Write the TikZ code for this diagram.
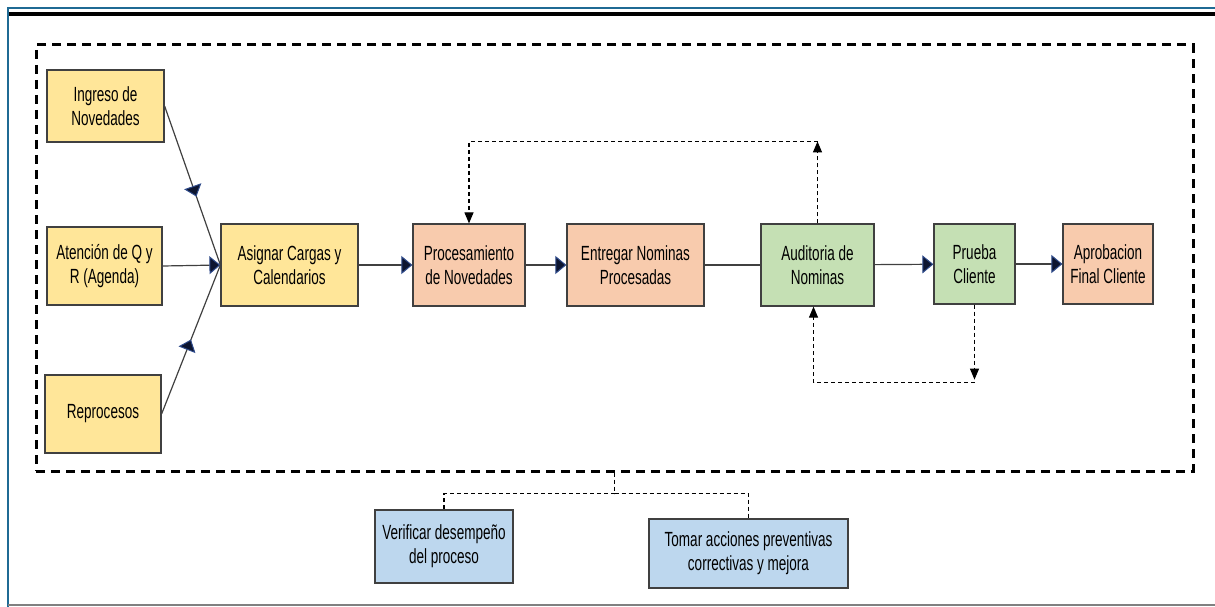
\documentclass[tikz,border=0pt]{standalone}
\usepackage{fontspec}
\setmainfont{Liberation Sans}[FakeStretch=0.66]
\usetikzlibrary{arrows.meta,decorations.markings}

\definecolor{amarillo}{HTML}{FFE699}
\definecolor{salmon}{HTML}{F8CBAD}
\definecolor{verde}{HTML}{C5E0B4}
\definecolor{celeste}{HTML}{BDD7EE}
\definecolor{borde}{HTML}{404040}
\definecolor{marco}{HTML}{1F6A94}
\definecolor{puntaazul}{HTML}{2E4A8A}
\definecolor{puntanegra}{HTML}{0D1530}

\tikzset{
  caja/.style={draw=borde, line width=1.2pt, align=center, inner sep=2pt, font=\fontsize{20.5}{24}\selectfont},
  flecha/.tip={Triangle[length=11pt,width=18pt,fill=puntanegra,color=puntaazul,line width=1pt]},
  punta/.tip={Triangle[length=11pt,width=9pt]},
  linea/.style={draw=borde, line width=1.2pt},
  retro/.style={line width=1.1pt, dash pattern=on 4pt off 3pt},
  midflecha/.style={postaction={decorate}, decoration={markings, mark=at position #1 with {\arrow{flecha}}}},
}

\begin{document}
\begin{tikzpicture}[x=1pt,y=1pt,yscale=-1,xscale=1]
\useasboundingbox (0,0) rectangle (1215,607);

%Shape: page frame
\draw [marco, line width=2pt] (8,607) -- (8,8) -- (1215,8);
\draw [black, line width=4pt] (9,14) -- (1215,14);
\draw [gray, line width=1.5pt] (8,605) -- (1215,605);

%Shape: dashed process area
\node [draw, line width=3pt, dash pattern=on 9pt off 6pt, minimum width=1157, minimum height=426, inner sep=0pt] (proceso) at (614.5,258) {};

% Input nodes
\node [caja, fill=amarillo, minimum width=117, minimum height=72] (ingreso) at (105.5,106) {Ingreso de\\Novedades};
\node [caja, fill=amarillo, minimum width=115, minimum height=78] (atencion) at (104.5,266) {Atención de Q y\\R (Agenda)};
\node [caja, fill=amarillo, minimum width=116, minimum height=78] (reproc) at (103,414) {Reprocesos};
\node [caja, fill=amarillo, minimum width=137, minimum height=82] (asignar) at (289.5,265) {Asignar Cargas y\\Calendarios};

% Main chain
\node [caja, fill=salmon, minimum width=112, minimum height=82] (proc) at (469,265) {Procesamiento\\de Novedades};
\node [caja, fill=salmon, minimum width=137, minimum height=82] (entregar) at (635.5,265) {Entregar Nominas\\Procesadas};
\node [caja, fill=verde, minimum width=113, minimum height=82] (audit) at (817.5,265) {Auditoria de\\Nominas};
\node [caja, fill=verde, minimum width=81, minimum height=80] (prueba) at (974.5,264) {Prueba\\Cliente};
\node [caja, fill=salmon, minimum width=90, minimum height=80] (aprob) at (1108,264) {Aprobacion\\Final Cliente};

% Control nodes
\node [caja, fill=celeste, minimum width=138, minimum height=73] (verif) at (444,546.5) {Verificar desempeño\\del proceso};
\node [caja, fill=celeste, minimum width=199, minimum height=69] (tomar) at (748.5,553.5) {Tomar acciones preventivas\\correctivas y mejora};

%Straight Lines
\draw [linea, midflecha=0.57] (ingreso.east) -- (asignar.west);
\draw [linea, -{flecha}] (atencion.east) -- (asignar.west);
\draw [linea, midflecha=0.5] (reproc.east) -- (asignar.west);
\draw [linea, -{flecha}] (asignar) -- (proc);
\draw [linea, -{flecha}] (proc) -- (entregar);
\draw [linea] (entregar) -- (audit);
\draw [linea, -{flecha}] (audit) -- (prueba);
\draw [linea, -{flecha}] (prueba) -- (aprob);

% Feedback loops
\draw [retro, -{punta}] (audit.north) -- ++(0,-82) coordinate (arriba);
\draw [retro, -{punta}] (arriba) -| (proc.north);
\draw [retro, -{punta}] (prueba.south) -- ++(0,75) coordinate (abajo);
\draw [retro, -{punta}] ([yshift=3pt]abajo) -| ([xshift=-4pt]audit.south);

% Control links
\draw [retro] (proceso.south) -- ++(0,21) coordinate (bif);
\draw [retro] (bif) -| (verif.north);
\draw [retro] (bif) -| (tomar.north);

\end{tikzpicture}
\end{document}
